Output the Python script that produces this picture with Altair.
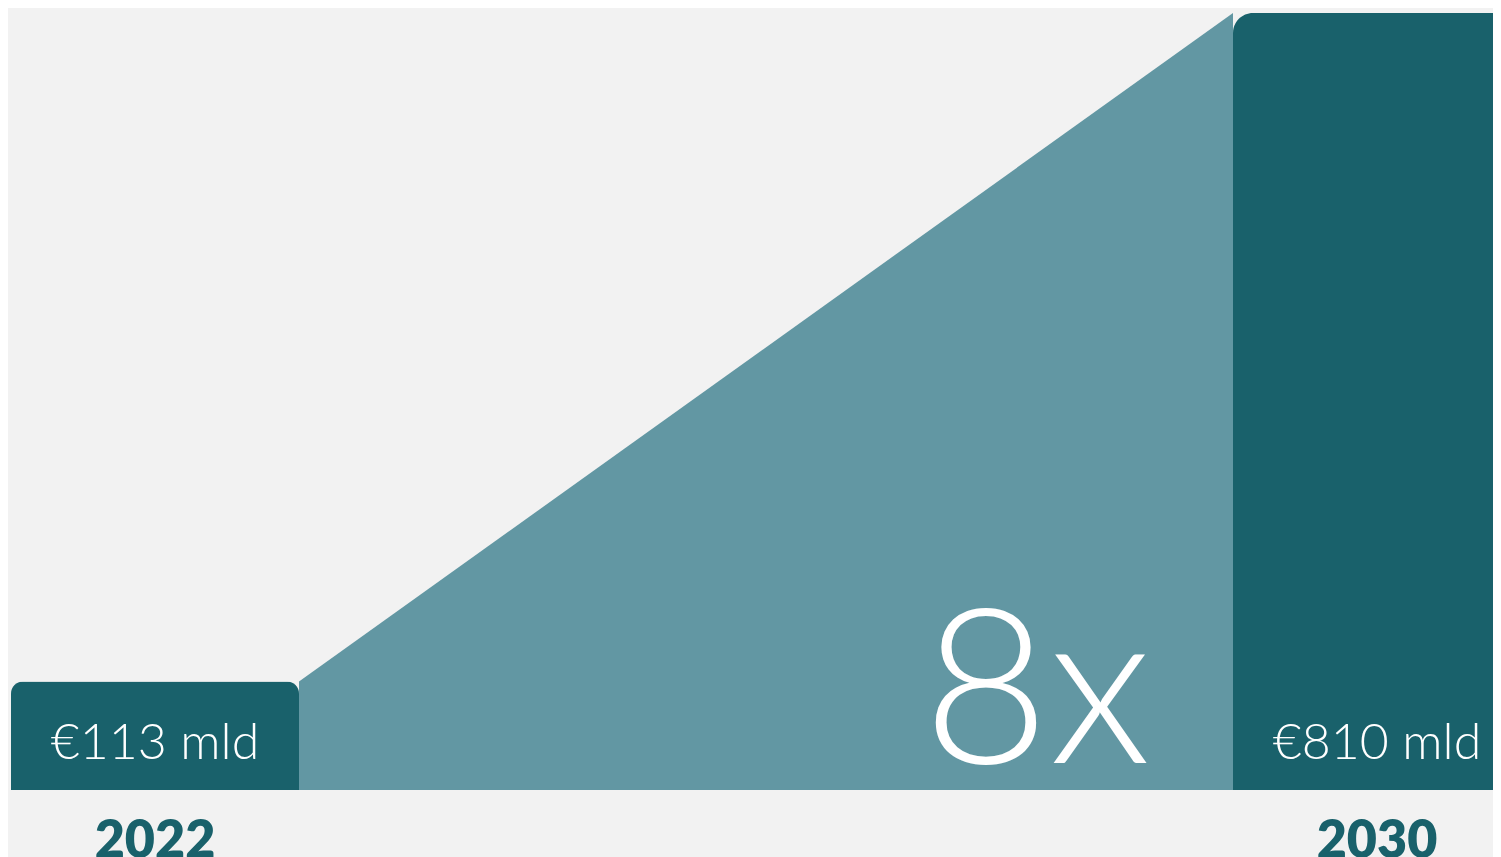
import altair as alt
import pandas as pd

# ---- data ----
years = [2022, 2030]
values = [113, 810]
value_labels = ["€113 mld", "€810 mld"]
year_labels = ["2022", "2030"]
growth_label = ["8x"]

DARK = "#19616b"
LIGHT = "#6297a3"
BG = "#f2f2f2"

PLOT_W = 1222
PLOT_H = 777
BAR_PX = 288
half_years = (BAR_PX / 2) / (PLOT_W / (years[1] - years[0]))

bars = pd.DataFrame({"year": years, "value": values,
                     "vlabel": value_labels, "ylabel": year_labels})
area_df = pd.DataFrame({"x": [years[0] + half_years, years[1] - half_years],
                        "value": values})
growth_df = pd.DataFrame({"year": [years[1]], "value": [0], "t": growth_label})

xs = alt.Scale(domain=[years[0], years[1]], zero=False, nice=False, padding=0)
ys = alt.Scale(domain=[0, values[1]], nice=False, padding=0)

area = alt.Chart(area_df).mark_area(color=LIGHT, opacity=1).encode(
    x=alt.X("x:Q", scale=xs, axis=None),
    y=alt.Y("value:Q", scale=ys, axis=None),
)

bar_left = alt.Chart(bars).transform_filter(alt.datum.year == years[0]).mark_bar(
    color=DARK, width=BAR_PX, cornerRadiusTopLeft=12, cornerRadiusTopRight=12
).encode(
    x=alt.X("year:Q", scale=xs, axis=None),
    y=alt.Y("value:Q", scale=ys, axis=None),
)

bar_right = alt.Chart(bars).transform_filter(alt.datum.year == years[1]).mark_bar(
    color=DARK, width=BAR_PX, cornerRadiusTopLeft=20, cornerRadiusTopRight=20
).encode(
    x=alt.X("year:Q", scale=xs, axis=None),
    y=alt.Y("value:Q", scale=ys, axis=None),
)

value_text = alt.Chart(bars).mark_text(
    font="Lato", fontWeight=300, fontSize=50, color="white",
    align="center", baseline="alphabetic", dy=-31
).encode(
    x=alt.X("year:Q", scale=xs),
    y=alt.datum(0, scale=ys),
    text="vlabel:N",
)

year_text = alt.Chart(bars).mark_text(
    font="Lato", fontWeight=800, fontSize=52, color=DARK,
    align="center", baseline="alphabetic", dy=68
).encode(
    x=alt.X("year:Q", scale=xs),
    y=alt.datum(0, scale=ys),
    text="ylabel:N",
)

growth_text = alt.Chart(growth_df).mark_text(
    font="Lato", fontWeight=300, fontSize=218, color="white",
    align="center", baseline="alphabetic", dx=-340, dy=-27
).encode(
    x=alt.X("year:Q", scale=xs),
    y=alt.Y("value:Q", scale=ys),
    text="t:N",
)

chart = alt.layer(area, bar_left, bar_right, value_text, year_text, growth_text).properties(
    width=PLOT_W, height=PLOT_H,
    padding={"left": 147, "right": 116, "top": 5, "bottom": 67},
    autosize=alt.AutoSizeParams(type="none"),
    background=BG,
).configure_view(stroke=None)

chart.save("out.html", embed_options={"renderer": "svg", "actions": False})
